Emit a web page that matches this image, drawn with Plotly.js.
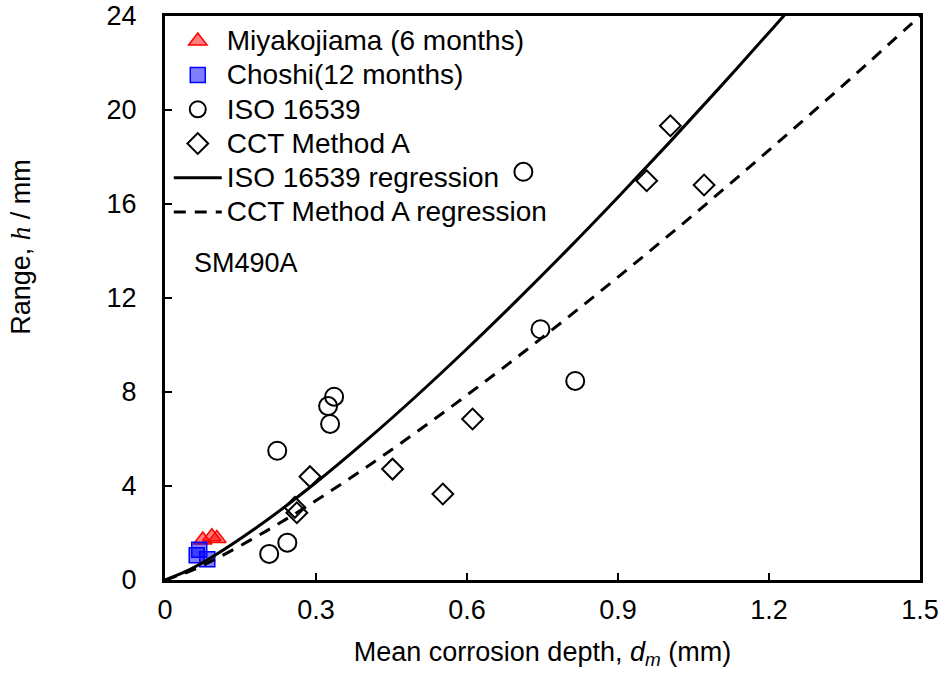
<!DOCTYPE html>
<html>
<head>
<meta charset="utf-8">
<script src="https://cdn.plot.ly/plotly-3.0.1.min.js"></script>
<style>html,body{margin:0;padding:0;background:#fff;}#chart{width:946px;height:674px;}</style>
</head>
<body>
<div id="chart"></div>
<script>
// Miyakojiama (6 months)
var miyakoX = [0.075, 0.093, 0.103];
var miyakoY = [1.70, 1.84, 1.77];
// Choshi (12 months)
var choshiX = [0.068, 0.063, 0.084];
var choshiY = [1.29, 1.05, 0.88];
// ISO 16539
var isoX = [0.207, 0.243, 0.223, 0.324, 0.336, 0.328, 0.712, 0.746, 0.815];
var isoY = [1.11, 1.59, 5.50, 7.40, 7.80, 6.64, 17.37, 10.67, 8.47];
// CCT Method A
var cctX = [0.288, 0.258, 0.262, 0.452, 0.552, 0.611, 1.004, 0.957, 1.071];
var cctY = [4.40, 3.09, 2.86, 4.72, 3.66, 6.85, 19.33, 16.99, 16.81];
// ISO 16539 regression curve
var isoRegX = [0, 0.05, 0.1, 0.2, 0.3, 0.4, 0.5, 0.6, 0.7, 0.8, 0.9, 1.0, 1.1, 1.2, 1.25];
var isoRegY = [0, 0.45, 1.06, 2.51, 4.15, 5.94, 7.84, 9.84, 11.92, 14.07, 16.29, 18.57, 20.91, 23.30, 24.5];
// CCT Method A regression curve
var cctRegX = [0, 0.05, 0.1, 0.2, 0.3, 0.4, 0.5, 0.6, 0.7, 0.8, 0.9, 1.0, 1.1, 1.2, 1.3, 1.4, 1.5];
var cctRegY = [0, 0.38, 0.89, 2.07, 3.38, 4.80, 6.30, 7.87, 9.49, 11.17, 12.89, 14.65, 16.45, 18.29, 20.16, 22.06, 24.0];
// names
var seriesNames = ['Miyakojiama (6 months)', 'Choshi(12 months)', 'ISO 16539', 'CCT Method A',
                   'ISO 16539 regression', 'CCT Method A regression'];
// ticks
var xTicks = [0, 0.3, 0.6, 0.9, 1.2, 1.5];
var xTickText = ['0', '0.3', '0.6', '0.9', '1.2', '1.5'];
var yTicks = [0, 4, 8, 12, 16, 20, 24];
var yTickText = ['0', '4', '8', '12', '16', '20', '24'];

var FONT = 'Arial, "Liberation Sans", sans-serif';
function big(s) { return '<span style="font-size:28px">' + s + '</span>'; }

var traces = [
  {x: miyakoX, y: miyakoY, name: big(seriesNames[0]), type: 'scatter', mode: 'markers',
   marker: {symbol: 'triangle-up', size: 16, color: 'rgba(255,0,0,0.5)', line: {color: '#ff0000', width: 1.5}}},
  {x: choshiX, y: choshiY, name: big(seriesNames[1]), type: 'scatter', mode: 'markers',
   marker: {symbol: 'square', size: 15, color: 'rgba(0,0,255,0.5)', line: {color: '#0000ff', width: 1.5}}},
  {x: isoX, y: isoY, name: big(seriesNames[2]), type: 'scatter', mode: 'markers',
   marker: {symbol: 'circle-open', size: 18, color: '#000', line: {color: '#000', width: 2}}},
  {x: cctX, y: cctY, name: big(seriesNames[3]), type: 'scatter', mode: 'markers',
   marker: {symbol: 'diamond-open', size: 16, color: '#000', line: {color: '#000', width: 2}}},
  {x: isoRegX, y: isoRegY, name: big(seriesNames[4]), type: 'scatter', mode: 'lines',
   line: {color: '#000', width: 3, shape: 'spline'}},
  {x: cctRegX, y: cctRegY, name: big(seriesNames[5]), type: 'scatter', mode: 'lines',
   line: {color: '#000', width: 3, dash: '12px,9px', shape: 'spline'}}
];

var layout = {
  width: 946, height: 674,
  margin: {l: 165, r: 26, t: 16, b: 94},
  paper_bgcolor: '#fff', plot_bgcolor: '#fff',
  font: {family: FONT, size: 28, color: '#000'},
  showlegend: true,
  legend: {x: 0.005, y: 0.995, xanchor: 'left', yanchor: 'top', bgcolor: 'rgba(0,0,0,0)',
           font: {family: FONT, size: 24, color: '#000'}, itemwidth: 48, tracegroupgap: 0},
  xaxis: {
    range: [0, 1.5], tickmode: 'array', tickvals: xTicks, ticktext: xTickText,
    ticks: 'inside', ticklen: 7, tickwidth: 2, tickcolor: '#000',
    showline: true, linewidth: 3, linecolor: '#000', mirror: true,
    showgrid: false, zeroline: false, ticklabelstandoff: 4,
    tickfont: {family: FONT, size: 27, color: '#000'},
    title: {text: 'Mean corrosion depth, <i>d<sub>m</sub></i> (mm)', font: {family: FONT, size: 27, color: '#000'}, standoff: 18}
  },
  yaxis: {
    range: [0, 24], tickmode: 'array', tickvals: yTicks, ticktext: yTickText,
    ticks: 'inside', ticklen: 7, tickwidth: 2, tickcolor: '#000',
    showline: true, linewidth: 3, linecolor: '#000', mirror: true,
    showgrid: false, zeroline: false, ticklabelstandoff: 20,
    tickfont: {family: FONT, size: 27, color: '#000'}
  },
  annotations: [
    {xref: 'paper', yref: 'paper', x: -0.19, y: 0.59, xanchor: 'center', yanchor: 'middle',
     textangle: -90, showarrow: false,
     text: 'Range, <span style="font-family:\'Times New Roman\', \'Liberation Serif\', serif;font-style:italic">h</span> / mm',
     font: {family: FONT, size: 27, color: '#000'}},
    {xref: 'x', yref: 'y', x: 0.053, y: 13.5, xanchor: 'left', yanchor: 'middle', showarrow: false,
     text: 'SM490A', font: {family: FONT, size: 27, color: '#000'}}
  ]
};

Plotly.newPlot('chart', traces, layout, {displayModeBar: false, staticPlot: true});
</script>
</body>
</html>
